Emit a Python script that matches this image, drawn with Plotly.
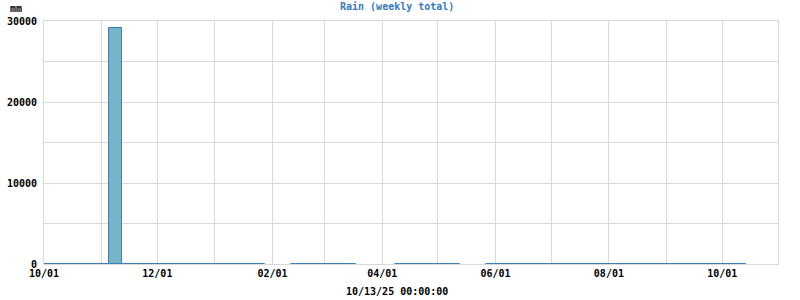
import plotly.graph_objects as go
import pandas as pd

# Weekly bins starting 2024-10-01; missing weeks are absent
week_index = [i for i in range(54) if i not in (17, 18, 24, 25, 26, 32, 33)]
week_start = [(pd.Timestamp("2024-10-01") + pd.Timedelta(days=7 * i)).strftime("%Y-%m-%d") for i in week_index]
rain_mm = [3, 8, 2, 5, 12, 29100, 6, 4, 9, 3, 7, 2, 5, 4, 10, 6, 3,
           4, 8, 5, 2, 6,
           7, 3, 9, 5, 4,
           2, 3, 1, 2, 4, 1, 2, 5, 3, 2, 1, 3, 6, 2, 4, 3, 8, 5, 3, 2, 6]
rain_mm = rain_mm[:len(week_start)]
while len(rain_mm) < len(week_start):
    rain_mm.append(2)

x_tickvals = ["2024-10-01", "2024-11-01", "2024-12-01", "2025-01-01", "2025-02-01", "2025-03-01",
              "2025-04-01", "2025-05-01", "2025-06-01", "2025-07-01", "2025-08-01", "2025-09-01",
              "2025-10-01"]
x_ticktext = ["10/01", "", "12/01", "", "02/01", "", "04/01", "", "06/01", "", "08/01", "", "10/01"]
y_tickvals = [0, 5000, 10000, 15000, 20000, 25000, 30000]
y_ticktext = ["0", "", "10000", "", "20000", "", "30000"]

title_text = "Rain (weekly total)"
unit_text = "mm"
time_text = "10/13/25 00:00:00"

font_family = "DejaVu Sans Mono"
grid = "#d9d9d9"
tf = dict(family=font_family, size=10, color="black", weight="bold")

fig = go.Figure()
fig.add_trace(go.Bar(
    x=week_start, y=rain_mm,
    width=7 * 86400000, offset=0,
    marker=dict(color="#78b4c8", line=dict(color="#3b7fb6", width=1)),
))

fig.update_layout(
    width=800, height=300,
    margin=dict(l=44, r=22, t=21, b=36, autoexpand=False),
    paper_bgcolor="white", plot_bgcolor="white",
    showlegend=False, bargap=0,
    font=tf,
)
fig.update_xaxes(
    type="date", range=["2024-10-01", "2025-10-31"], automargin=False,
    tickmode="array", tickvals=x_tickvals, ticktext=x_ticktext,
    showgrid=True, gridcolor=grid, gridwidth=1,
    showline=True, linecolor=grid, mirror=True,
    ticks="", tickfont=tf, zeroline=False,
)
fig.update_yaxes(
    range=[0, 30000], automargin=False,
    tickmode="array", tickvals=y_tickvals, ticktext=y_ticktext,
    showgrid=True, gridcolor=grid, gridwidth=1,
    showline=True, linecolor=grid, mirror=True,
    ticks="", ticklabelstandoff=4, tickfont=tf, zeroline=False,
)
fig.add_annotation(text=title_text, xref="paper", yref="paper", x=0.4809, y=1, yshift=15,
                   xanchor="center", yanchor="middle", showarrow=False,
                   font=dict(family=font_family, size=10, color="#3a7ab8", weight="bold"))
fig.add_annotation(text=unit_text, xref="paper", yref="paper", x=-0.0388, y=1, yshift=13,
                   xanchor="center", yanchor="middle", showarrow=False, font=tf)
fig.add_annotation(text=time_text, xref="paper", yref="paper", x=0.4809, y=0, yshift=-27,
                   xanchor="center", yanchor="middle", showarrow=False, font=tf)

fig.write_html("out.html")
